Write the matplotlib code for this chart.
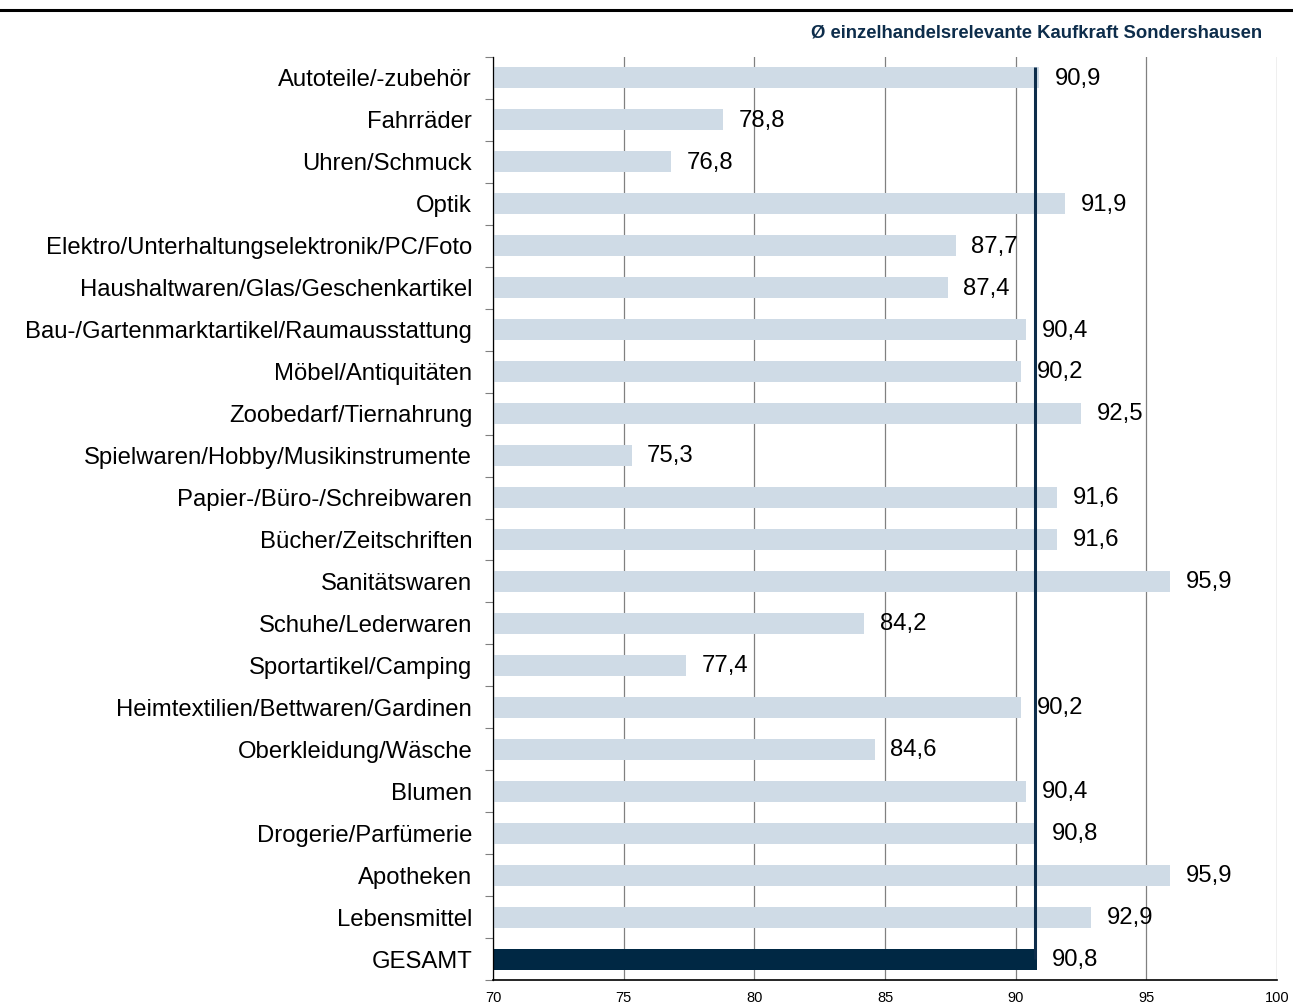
import matplotlib.pyplot as plt
from matplotlib.ticker import MultipleLocator, FixedLocator

plt.rcParams['font.family'] = ['Liberation Sans', 'DejaVu Sans']

categories = ['Autoteile/-zubehör', 'Fahrräder', 'Uhren/Schmuck', 'Optik',
              'Elektro/Unterhaltungselektronik/PC/Foto',
              'Haushaltwaren/Glas/Geschenkartikel',
              'Bau-/Gartenmarktartikel/Raumausstattung',
              'Möbel/Antiquitäten', 'Zoobedarf/Tiernahrung',
              'Spielwaren/Hobby/Musikinstrumente',
              'Papier-/Büro-/Schreibwaren', 'Bücher/Zeitschriften',
              'Sanitätswaren', 'Schuhe/Lederwaren', 'Sportartikel/Camping',
              'Heimtextilien/Bettwaren/Gardinen', 'Oberkleidung/Wäsche',
              'Blumen', 'Drogerie/Parfümerie', 'Apotheken', 'Lebensmittel',
              'GESAMT']
values = [90.9, 78.8, 76.8, 91.9, 87.7, 87.4, 90.4, 90.2, 92.5, 75.3, 91.6,
          91.6, 95.9, 84.2, 77.4, 90.2, 84.6, 90.4, 90.8, 95.9, 92.9, 90.8]
average = 90.8
subtitle = 'Ø einzelhandelsrelevante Kaufkraft Sondershausen'

light = '#cfdbe6'
navy = '#002844'

fig = plt.figure(figsize=(12.93, 10.08), dpi=100)
ax = fig.add_axes([493 / 1293, 28 / 1008, 784 / 1293, 923 / 1008])

n = len(categories)
ypos = list(range(n))
colors = [light] * (n - 1) + [navy]
ax.barh(ypos, [v - 70 for v in values], left=70, height=0.5, color=colors, zorder=2)

for y, v in zip(ypos, values):
    ax.text(v + 0.6, y + 0.02, f'{v:.1f}'.replace('.', ','), va='center', ha='left',
            fontsize=17.2, color='black', zorder=4)

# average line
ax.vlines(average - 0.06, -0.25, n - 1, color='#0d2d4b', linewidth=2.2, zorder=3)

ax.set_xlim(70, 100)
ax.set_ylim(n - 0.5, -0.5)
ax.xaxis.set_major_locator(MultipleLocator(5))
ax.grid(axis='x', color='#808080', linewidth=0.9, zorder=0)
ax.tick_params(axis='x', length=0, labelsize=10.5, pad=8)

ax.set_yticks(ypos)
ax.set_yticklabels(categories, fontsize=17.2)
ax.yaxis.set_minor_locator(FixedLocator([i - 0.5 for i in range(n + 1)]))
ax.tick_params(axis='y', which='major', length=0, pad=15)
ax.tick_params(axis='y', which='minor', length=6, width=0.8, color='#808080')

for s in ['top', 'right']:
    ax.spines[s].set_visible(False)
ax.spines['left'].set_color('black')
ax.spines['bottom'].set_color('black')
ax.spines['left'].set_linewidth(0.9)
ax.spines['bottom'].set_linewidth(1.2)

fig.lines.append(plt.Line2D([0, 1], [1 - 10 / 1008, 1 - 10 / 1008],
                            transform=fig.transFigure, color='black', linewidth=2.2))
fig.text(1262 / 1293, 1 - 33 / 1008, subtitle, ha='right', va='center',
         fontsize=13.3, fontweight='bold', color='#0d2d4b')

fig.savefig('out.png', dpi=100)
